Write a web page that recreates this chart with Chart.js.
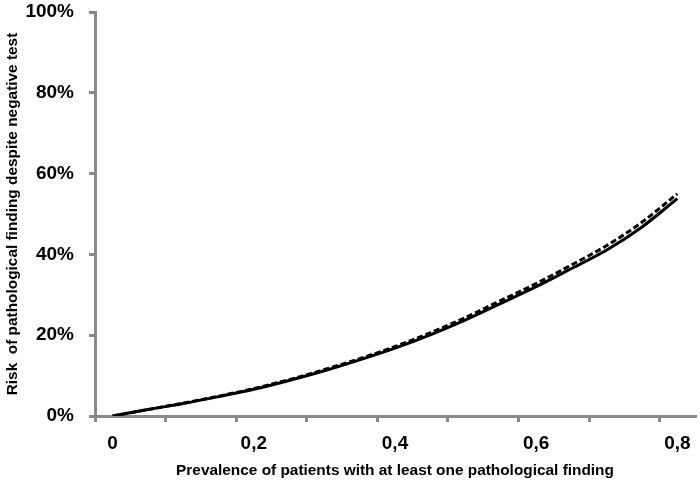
<!DOCTYPE html>
<html>
<head>
<meta charset="utf-8">
<script src="https://cdn.jsdelivr.net/npm/chart.js@4"></script>
<style>
html,body{margin:0;padding:0;background:#fff;}
#wrap{width:700px;height:483px;position:relative;}
</style>
</head>
<body>
<div id="wrap"><canvas id="c" width="700" height="483"></canvas></div>
<script>
// Prevalence categories (0 to 0.80, step 0.05)
const categories = ['0','0,05','0,1','0,15','0,2','0,25','0,3','0,35','0,4','0,45','0,5','0,55','0,6','0,65','0,7','0,75','0,8'];
// Risk (%)
const dashedSeries = [0, 1.6, 3.2, 4.9, 6.8, 9.0, 11.5, 14.2, 17.2, 20.6, 24.4, 28.6, 32.8, 37.4, 42.2, 48.0, 55.0];
const solidSeries  = [0, 1.6, 3.1, 4.8, 6.6, 8.8, 11.2, 13.9, 16.8, 20.1, 23.8, 27.9, 32.0, 36.5, 41.1, 46.8, 53.8];
const yTicks = [0, 20, 40, 60, 80, 100];

const AXIS = '#888888';
const FONT = 'Liberation Sans, Arial, sans-serif';

new Chart(document.getElementById('c'), {
  type: 'line',
  data: {
    labels: categories,
    datasets: [
      { label: 'dashed', data: dashedSeries, borderColor: '#000', borderWidth: 3, borderDash: [6, 3],
        pointRadius: 0, cubicInterpolationMode: 'monotone', fill: false },
      { label: 'solid', data: solidSeries, borderColor: '#000', borderWidth: 3,
        pointRadius: 0, cubicInterpolationMode: 'monotone', fill: false }
    ]
  },
  options: {
    responsive: false,
    animation: false,
    devicePixelRatio: 1,
    layout: { padding: { top: 12, right: 5, left: 0, bottom: 0 } },
    plugins: { legend: { display: false }, tooltip: { enabled: false } },
    scales: {
      x: {
        type: 'category',
        offset: true,
        border: { color: AXIS, width: 3 },
        grid: {
          offset: true,
          drawOnChartArea: false,
          drawTicks: true,
          tickLength: 6,
          lineWidth: 3,
          tickColor: ctx => (typeof ctx.index === 'number' && ctx.index % 2 === 0) ? AXIS : 'rgba(0,0,0,0)'
        },
        ticks: {
          autoSkip: false,
          maxRotation: 0,
          padding: 10,
          color: '#000',
          font: { family: FONT, size: 19, weight: 'bold' },
          callback: function(v, i) { return i % 4 === 0 ? categories[i] : ''; }
        },
        title: {
          display: true,
          text: 'Prevalence of patients with at least one pathological finding',
          color: '#000',
          font: { family: FONT, size: 15.4, weight: 'bold' },
          padding: { top: 0, bottom: 3 }
        },
        afterFit: s => { s.height = 67; s.paddingLeft = 0; s.paddingRight = 0; }
      },
      y: {
        min: 0, max: 100,
        border: { color: AXIS, width: 3 },
        grid: { drawOnChartArea: false, drawTicks: true, tickLength: 6, lineWidth: 3, tickColor: AXIS },
        afterBuildTicks: s => { s.ticks = yTicks.map(v => ({ value: v })); },
        ticks: {
          padding: 15,
          color: '#000',
          font: { family: FONT, size: 19, weight: 'bold' },
          callback: v => v + '%'
        },
        title: {
          display: true,
          text: 'Risk  of pathological finding despite negative test',
          color: '#000',
          font: { family: FONT, size: 15.4, weight: 'bold' },
          padding: { top: 4, bottom: 0 }
        },
        afterFit: s => { s.width = 95; s.paddingTop = 0; s.paddingBottom = 0; }
      }
    }
  }
});
</script>
</body>
</html>
